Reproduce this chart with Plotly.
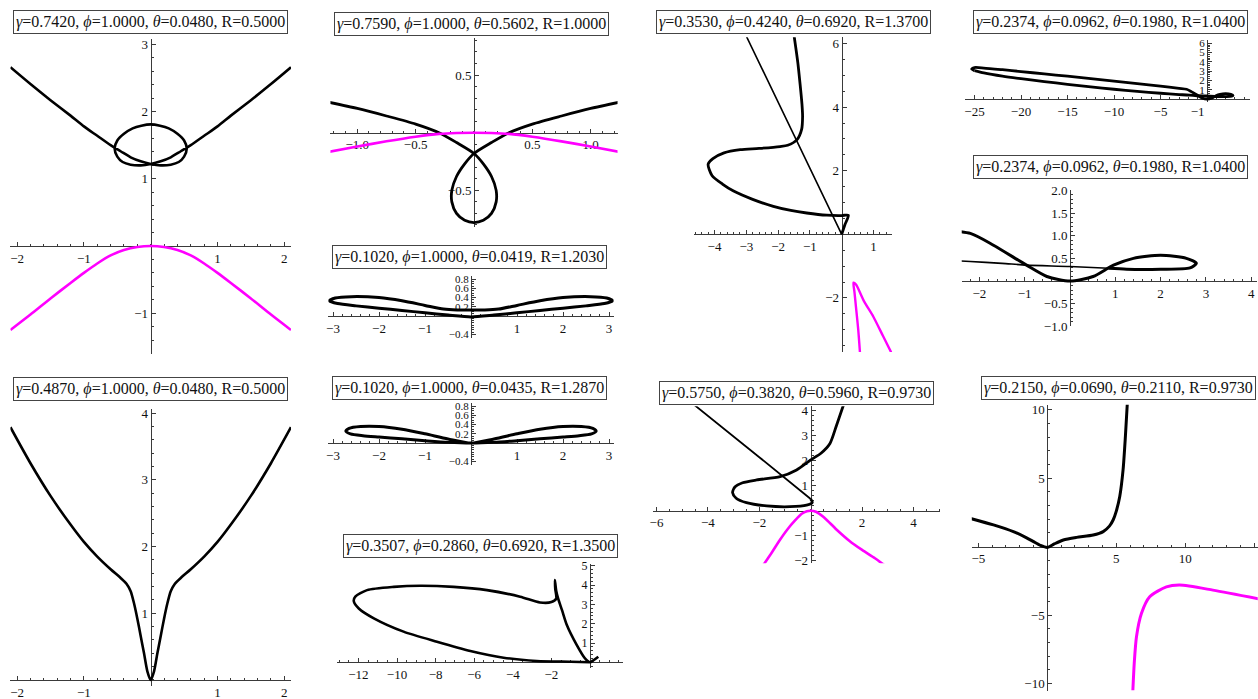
import plotly.graph_objects as go

W, H = 1258, 699
BLACK = "#000000"
MAGENTA = "#ff00ff"
AXIS = "#3a3a3a"
SERIF = "Liberation Serif"

# ---- parameters shown in each panel caption: (gamma, phi, theta, R) ----
params = {
    "A": (0.7420, 1.0000, 0.0480, 0.5000),
    "B": (0.4870, 1.0000, 0.0480, 0.5000),
    "C": (0.7590, 1.0000, 0.5602, 1.0000),
    "D": (0.1020, 1.0000, 0.0419, 1.2030),
    "E": (0.1020, 1.0000, 0.0435, 1.2870),
    "F": (0.3507, 0.2860, 0.6920, 1.3500),
    "G": (0.3530, 0.4240, 0.6920, 1.3700),
    "H": (0.5750, 0.3820, 0.5960, 0.9730),
    "I": (0.2374, 0.0962, 0.1980, 1.0400),
    "J": (0.2374, 0.0962, 0.1980, 1.0400),
    "K": (0.2150, 0.0690, 0.2110, 0.9730),
}

# ---- curve samples ----
a_x = [-2.1, -1.8, -1.5, -1.2, -1.0, -0.8, -0.6, -0.45, -0.3, -0.15, 0.0,
       0.15, 0.3, 0.42, 0.5, 0.54, 0.5, 0.4, 0.27, 0.14, 0.0, -0.14, -0.27, -0.4, -0.5, -0.54,
       -0.5, -0.42, -0.3, -0.15, 0.0,
       0.15, 0.3, 0.45, 0.6, 0.8, 1.0, 1.2, 1.5, 1.8, 2.1]
a_y = [2.66, 2.41, 2.17, 1.94, 1.78, 1.64, 1.5, 1.41, 1.32, 1.26, 1.22,
       1.2, 1.21, 1.25, 1.33, 1.45, 1.57, 1.67, 1.75, 1.79, 1.81, 1.79, 1.75, 1.67, 1.57, 1.45,
       1.33, 1.25, 1.21, 1.2, 1.22,
       1.26, 1.32, 1.41, 1.5, 1.64, 1.78, 1.94, 2.17, 2.41, 2.66]
am_x = [-2.1, -1.8, -1.5, -1.2, -1.0, -0.8, -0.6, -0.4, -0.2, 0.0, 0.2, 0.4, 0.6, 0.8, 1.0, 1.2, 1.5, 1.8, 2.1]
am_y = [-1.25, -1.02, -0.78, -0.55, -0.4, -0.26, -0.14, -0.06, -0.015, 0.0, -0.015, -0.06, -0.14, -0.26, -0.4,
        -0.55, -0.78, -1.02, -1.25]

b_x = [-2.1, -1.8, -1.5, -1.2, -1.0, -0.8, -0.6, -0.45, -0.36, -0.3, -0.25, -0.2, -0.15, -0.1, -0.05, 0.0,
       0.05, 0.1, 0.15, 0.2, 0.25, 0.3, 0.36, 0.45, 0.6, 0.8, 1.0, 1.2, 1.5, 1.8, 2.1]
b_y = [3.79, 3.25, 2.76, 2.33, 2.07, 1.85, 1.66, 1.53, 1.44, 1.33, 1.15, 0.92, 0.66, 0.4, 0.13, 0.0,
       0.13, 0.4, 0.66, 0.92, 1.15, 1.33, 1.44, 1.53, 1.66, 1.85, 2.07, 2.33, 2.76, 3.25, 3.79]

c_x = [-1.24, -1.0, -0.75, -0.5, -0.3, -0.15, 0.0, 0.08, 0.15, 0.19, 0.19, 0.15, 0.08, 0.0, -0.08, -0.15,
       -0.19, -0.19, -0.15, -0.08, 0.0, 0.15, 0.3, 0.5, 0.75, 1.0, 1.24]
c_y = [0.263, 0.21, 0.145, 0.075, 0.0, -0.085, -0.18, -0.27, -0.38, -0.5, -0.6, -0.7, -0.76, -0.78, -0.76, -0.7,
       -0.6, -0.5, -0.38, -0.27, -0.18, -0.085, 0.0, 0.075, 0.145, 0.21, 0.263]
cm_x = [-1.24, -1.0, -0.75, -0.5, -0.3, -0.15, 0.0, 0.15, 0.3, 0.5, 0.75, 1.0, 1.24]
cm_y = [-0.165, -0.12, -0.075, -0.035, -0.01, -0.002, 0.0, -0.002, -0.01, -0.035, -0.075, -0.12, -0.165]

d_x = [0.0, 0.5, 1.0, 1.5, 2.0, 2.5, 2.9, 3.08, 2.95, 2.6, 2.0, 1.5, 1.0, 0.6, 0.3, 0.0,
       -0.3, -0.6, -1.0, -1.5, -2.0, -2.6, -2.95, -3.08, -2.9, -2.5, -2.0, -1.5, -1.0, -0.5, 0.0]
d_y = [-0.02, 0.02, 0.07, 0.12, 0.17, 0.22, 0.27, 0.33, 0.39, 0.42, 0.4, 0.33, 0.23, 0.15, 0.13, 0.13,
       0.13, 0.15, 0.23, 0.33, 0.4, 0.42, 0.39, 0.33, 0.27, 0.22, 0.17, 0.12, 0.07, 0.02, -0.02]

e_x = [0.0, 0.5, 1.0, 1.5, 2.0, 2.35, 2.62, 2.72, 2.65, 2.4, 2.0, 1.5, 1.0, 0.5, 0.0,
       -0.5, -1.0, -1.5, -2.0, -2.4, -2.65, -2.72, -2.62, -2.35, -2.0, -1.5, -1.0, -0.5, 0.0]
e_y = [0.0, 0.015, 0.05, 0.09, 0.13, 0.16, 0.2, 0.26, 0.32, 0.36, 0.36, 0.3, 0.2, 0.09, 0.0,
       0.09, 0.2, 0.3, 0.36, 0.36, 0.32, 0.26, 0.2, 0.16, 0.13, 0.09, 0.05, 0.015, 0.0]

f_x = [0.0, -1.0, -2.76, -4.48, -6.2, -7.93, -9.66, -11.2, -11.98, -12.24, -12.16, -11.55, -10.17, -8.79,
       -7.07, -5.34, -3.62, -2.59, -2.0, -1.75, -1.8, -1.82, -1.75, -1.65, -1.45, -1.2, -0.69, -0.26, 0.0,
       0.2, 0.43]
f_y = [0.0, 0.03, 0.07, 0.24, 0.59, 1.07, 1.59, 2.28, 2.79, 3.17, 3.4, 3.74, 3.91, 3.97,
       3.91, 3.74, 3.4, 3.1, 3.12, 3.3, 3.8, 4.26, 3.7, 3.3, 2.7, 1.93, 0.9, 0.2, 0.0,
       0.12, 0.29]

g_thin_x = [-3.1, -1.5, 0.0]
g_thin_y = [6.44, 3.12, 0.0]
g_x = [-1.52, -1.38, -1.31, -1.25, -1.23, -1.26, -1.41, -1.7, -1.94, -2.6, -3.19, -3.7, -4.05, -4.2,
       -4.08, -3.75, -3.4, -2.8, -2.15, -1.6, -1.1, -0.47, 0.0, 0.21, 0.1, 0.0]
g_y = [6.4, 5.4, 4.74, 4.1, 3.7, 3.3, 2.97, 2.8, 2.76, 2.7, 2.66, 2.56, 2.38, 2.2,
       1.85, 1.58, 1.36, 1.1, 0.88, 0.75, 0.67, 0.6, 0.59, 0.6, 0.3, 0.0]
gm_x = [0.58, 0.52, 0.45, 0.4, 0.37, 0.45, 0.7, 1.0, 1.3, 1.6]
gm_y = [-3.8, -3.0, -2.3, -1.8, -1.52, -1.58, -2.1, -2.6, -3.2, -3.8]

h_thin_x = [-4.6, -2.0, 0.0]
h_thin_y = [4.29, 2.14, 0.47]
h_x = [1.3, 1.0, 0.75, 0.4, 0.0, -0.55, -1.19, -2.1, -2.65, -2.95, -3.04, -2.9, -2.5, -1.71, -0.81,
       -0.16, 0.06, 0.0]
h_y = [4.3, 3.4, 2.69, 2.3, 2.03, 1.63, 1.36, 1.23, 1.12, 0.95, 0.72, 0.5, 0.32, 0.19, 0.16,
       0.22, 0.33, 0.47]
hm_x = [-1.84, -1.5, -1.2, -0.9, -0.6, -0.35, -0.15, 0.0, 0.2, 0.5, 1.0, 1.5, 2.0, 2.5, 2.9]
hm_y = [-2.17, -1.65, -1.17, -0.74, -0.38, -0.12, -0.02, 0.0, -0.04, -0.25, -0.75, -1.2, -1.57, -1.9, -2.2]

# shared curve for the two panels with gamma=0.2374
ij_lower_x = [-25.0, -24.0, -22.0, -20.0, -17.5, -15.0, -12.5, -10.0, -7.5, -5.0, -3.0, -2.2, -1.5, -0.96,
              0.0, 0.85]
ij_lower_y = [3.05, 2.8, 2.45, 2.18, 1.88, 1.58, 1.3, 1.05, 0.82, 0.62, 0.48, 0.43, 0.39, 0.35,
              0.32, 0.28]
ij_upper_x = [0.85, 1.25, 2.0, 2.65, 2.79, 2.57, 2.0, 1.4, 0.96, 0.51, 0.0, -0.51, -0.96, -1.69, -2.2,
              -3.0, -5.0, -7.5, -10.0, -12.5, -15.0, -17.5, -20.0, -22.0, -24.0, -25.0, -25.3, -25.0]
ij_upper_y = [0.28, 0.26, 0.26, 0.29, 0.39, 0.5, 0.57, 0.5, 0.35, 0.1, 0.0, 0.1, 0.35, 0.79, 1.05,
              1.15, 1.38, 1.65, 1.92, 2.18, 2.45, 2.7, 2.95, 3.15, 3.33, 3.38, 3.22, 3.05]

k_x = [-5.6, -3.9, -2.46, -1.5, -1.0, -0.5, 0.0, 0.5, 1.16, 2.12, 3.33, 4.05, 4.5, 4.77, 5.0, 5.25,
       5.49, 5.66, 5.8]
k_y = [2.07, 1.59, 1.1, 0.65, 0.37, 0.1, -0.05, 0.2, 0.49, 0.68, 0.85, 1.1, 1.5, 1.95, 2.6, 3.66,
       5.6, 8.05, 10.5]
km_x = [6.2, 6.3, 6.46, 6.82, 7.42, 8.63, 9.59, 12.0, 15.3]
km_y = [-10.5, -8.5, -6.59, -4.88, -3.66, -2.93, -2.8, -3.17, -3.8]

# ---- tick labels ----
a_xticks = [-2, -1, 1, 2]
a_yticks = [-1, 1, 2, 3]
b_yticks = [1, 2, 3, 4]
c_xticks = [-1.0, -0.5, 0.5, 1.0]
c_yticks = [-0.5, 0.5]
de_xticks = [-3, -2, -1, 1, 2, 3]
de_yticks = [-0.4, 0.2, 0.4, 0.6, 0.8]
f_xticks = [-12, -10, -8, -6, -4, -2]
f_yticks = [1, 2, 3, 4, 5]
g_xticks = [-4, -3, -2, -1, 1]
g_yticks = [-2, 2, 4, 6]
h_xticks = [-6, -4, -2, 2, 4]
h_yticks = [-2, -1, 1, 2, 3, 4]
i_xticks = [-25, -20, -15, -10, -5, -1]
i_yticks = [1, 2, 3, 4, 5, 6]
j_xticks = [-2, -1, 1, 2, 3, 4]
j_yticks = [-1.0, -0.5, 0.5, 1.0, 1.5, 2.0]
k_xticks = [-5, 5, 10, 15]
k_yticks = [-10, -5, 5, 10]


def fmt(v, dec):
    s = f"{abs(v):.{dec}f}"
    return ("\u2212" + s) if v < 0 else s


# panel geometry: origin pixel, pixels per unit, ranges, ticks (values, decimals, minor step,
# label size), caption centre
PANELS = {
    "A": dict(o=(150.7, 246), s=(66.8, 67.2), xr=(-2.1, 2.1), yr=(-1.6, 3.08),
              xt=(a_xticks, 0, 0.2, 13), yt=(a_yticks, 0, 0.2, 13), cap=(150.3, 21.8)),
    "B": dict(o=(150.7, 680), s=(66.8, 66.7), xr=(-2.1, 2.1), yr=(-0.09, 4.06),
              xt=(a_xticks, 0, 0.2, 13), yt=(b_yticks, 0, 0.2, 13), cap=(150.3, 388.8)),
    "C": dict(o=(474, 132.7), s=(116.7, 115.3), xr=(-1.23, 1.23), yr=(-0.82, 0.82),
              xt=(c_xticks, 1, 0.1, 13), yt=(c_yticks, 1, 0.1, 13), cap=(471.5, 23.8)),
    "D": dict(o=(471, 316), s=(46, 46), xr=(-3.1, 3.1), yr=(-0.47, 0.86),
              xt=(de_xticks, 0, 0.2, 13), yt=(de_yticks, 1, 0.05, 11), cap=(469.7, 256.7)),
    "E": dict(o=(471, 443), s=(46, 46), xr=(-3.1, 3.1), yr=(-0.47, 0.86),
              xt=(de_xticks, 0, 0.2, 13), yt=(de_yticks, 1, 0.05, 11), cap=(469.3, 388)),
    "F": dict(o=(590, 662.3), s=(19.3, 19.3), xr=(-13.1, 1.7), yr=(-0.3, 5.1),
              xt=(f_xticks, 0, 0.5, 13), yt=(f_yticks, 0, 0.2, 12), cap=(480, 545.5)),
    "G": dict(o=(841.7, 234.3), s=(31.8, 31.8), xr=(-4.64, 1.59), yr=(-3.7, 6.2),
              xt=(g_xticks, 0, 0.2, 13), yt=(g_yticks, 0, 0.5, 13), cap=(793.2, 21.8)),
    "H": dict(o=(810.7, 510.7), s=(25.7, 25), xr=(-6.13, 5.04), yr=(-2.1, 4.18),
              xt=(h_xticks, 0, 0.5, 13), yt=(h_yticks, 0, 0.2, 13), cap=(797, 393)),
    "I": dict(o=(1207, 99), s=(9.3, 9.3), xr=(-26, 4.6), yr=(-0.3, 6.3),
              xt=(i_xticks, 0, 1, 13), yt=(i_yticks, 0, 0.2, 11), cap=(1110.7, 21.7)),
    "J": dict(o=(1070, 281), s=(45.3, 45.3), xr=(-2.39, 4.12), yr=(-1.0, 2.0),
              xt=(j_xticks, 0, 0.2, 13), yt=(j_yticks, 1, 0.1, 13), cap=(1110.5, 166.7)),
    "K": dict(o=(1047.3, 546.7), s=(13.8, 13.7), xr=(-5.47, 15.25), yr=(-10.5, 10.36),
              xt=(k_xticks, 0, 1, 13), yt=(k_yticks, 0, 1, 13), cap=(1118, 388.3)),
}

# curves per panel: (x, y, colour, width)
CURVES = {
    "A": [(a_x, a_y, BLACK, 2.6), (am_x, am_y, MAGENTA, 2.6)],
    "B": [(b_x, b_y, BLACK, 2.6)],
    "C": [(c_x, c_y, BLACK, 2.8), (cm_x, cm_y, MAGENTA, 2.6)],
    "D": [(d_x, d_y, BLACK, 3.0)],
    "E": [(e_x, e_y, BLACK, 3.0)],
    "F": [(f_x, f_y, BLACK, 2.6)],
    "G": [(g_thin_x, g_thin_y, BLACK, 1.6), (g_x, g_y, BLACK, 2.8), (gm_x, gm_y, MAGENTA, 2.4)],
    "H": [(h_thin_x, h_thin_y, BLACK, 1.8), (h_x, h_y, BLACK, 2.8), (hm_x, hm_y, MAGENTA, 2.6)],
    "I": [(ij_lower_x, ij_lower_y, BLACK, 2.8), (ij_upper_x, ij_upper_y, BLACK, 2.8)],
    "J": [(ij_lower_x, ij_lower_y, BLACK, 1.6), (ij_upper_x, ij_upper_y, BLACK, 3.0)],
    "K": [(k_x, k_y, BLACK, 3.0), (km_x, km_y, MAGENTA, 3.0)],
}

fig = go.Figure()
layout_axes = {}
annotations = []

for n, (key, p) in enumerate(PANELS.items(), start=1):
    ox, oy = p["o"]
    sx, sy = p["s"]
    xr, yr = p["xr"], p["yr"]
    x0, x1 = ox + sx * xr[0], ox + sx * xr[1]
    ytop, ybot = oy - sy * yr[1], oy - sy * yr[0]
    xt, xdec, xminor, xfs = p["xt"]
    yt, ydec, yminor, yfs = p["yt"]
    common = dict(
        anchor="free", showline=True, linecolor=AXIS, linewidth=1,
        ticks="inside", ticklen=4, tickcolor=AXIS, tickwidth=1,
        showgrid=False, zeroline=False, layer="below traces", fixedrange=True,
        automargin=False, tickmode="array",
    )
    minor = dict(ticks="inside", ticklen=2, tickcolor=AXIS, tickmode="linear", tick0=0)
    xa = dict(common)
    xa.update(domain=[x0 / W, x1 / W], range=list(xr), position=1 - oy / H,
              tickvals=xt, ticktext=[fmt(v, xdec) for v in xt],
              tickfont=dict(family=SERIF, size=xfs, color="#111111"),
              minor=dict(minor, dtick=xminor))
    ya = dict(common)
    ya.update(domain=[1 - ybot / H, 1 - ytop / H], range=list(yr), position=ox / W,
              tickvals=yt, ticktext=[fmt(v, ydec) for v in yt],
              tickfont=dict(family=SERIF, size=yfs, color="#111111"),
              minor=dict(minor, dtick=yminor))
    layout_axes[f"xaxis{n}"] = xa
    layout_axes[f"yaxis{n}"] = ya

    for cx, cy, col, wdt in CURVES[key]:
        fig.add_trace(go.Scatter(
            x=cx, y=cy, mode="lines", xaxis=f"x{n}", yaxis=f"y{n}",
            line=dict(color=col, width=wdt, shape="spline", smoothing=0.7),
            hoverinfo="skip", showlegend=False))

    g, ph, th, r = params[key]
    cxp, cyp = p["cap"]
    annotations.append(dict(
        xref="paper", yref="paper", x=cxp / W, y=1 - cyp / H, xanchor="center", yanchor="middle",
        showarrow=False, bgcolor="white", bordercolor="#444444", borderwidth=1, borderpad=2,
        font=dict(family=SERIF, size=16, color="#111111"),
        text=f"<i>\u03b3</i>={g:.4f}, <i>\u03d5</i>={ph:.4f}, <i>\u03b8</i>={th:.4f}, R={r:.4f}"))

fig.update_layout(
    width=W, height=H, margin=dict(l=0, r=0, t=0, b=0),
    paper_bgcolor="white", plot_bgcolor="rgba(0,0,0,0)",
    annotations=annotations, **layout_axes)

fig.write_html("out.html")
